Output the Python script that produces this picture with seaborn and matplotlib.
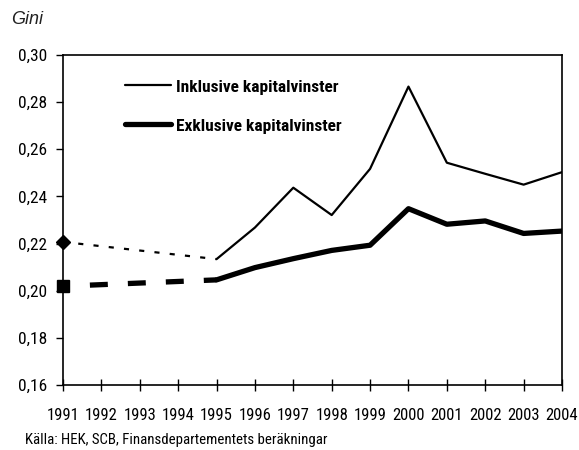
import matplotlib
matplotlib.use("Agg")
import matplotlib.pyplot as plt
import seaborn as sns
import pandas as pd
from matplotlib import font_manager as fm

years = [1991, 1992, 1993, 1994, 1995, 1996, 1997, 1998, 1999, 2000, 2001, 2002, 2003, 2004]
# 1991 endpoint (gap years 1992-1994 drawn as a broken line to 1995)
inkl_early_years = [1991, 1995]
inkl_early = [0.2207, 0.2134]
exkl_early_years = [1991, 1995]
exkl_early = [0.2019, 0.2046]
main_years = [1995, 1996, 1997, 1998, 1999, 2000, 2001, 2002, 2003, 2004]
inkl = [0.2134, 0.2268, 0.2437, 0.2321, 0.2517, 0.2866, 0.2543, 0.2496, 0.2450, 0.2503]
exkl = [0.2046, 0.2098, 0.2136, 0.2171, 0.2193, 0.2348, 0.2282, 0.2296, 0.2243, 0.2253]
yticks = [0.16, 0.18, 0.20, 0.22, 0.24, 0.26, 0.28, 0.30]
label_inkl = "Inklusive kapitalvinster"
label_exkl = "Exklusive kapitalvinster"
ylabel = "Gini"
source = "Källa: HEK, SCB, Finansdepartementets beräkningar"

sns.set_theme(style="white")

# pick a condensed grotesque that has regular and bold
weights = {}
for f in fm.fontManager.ttflist:
    weights.setdefault(f.name, set()).add((f.style, f.weight if isinstance(f.weight, int) else 400))
prefs = ["Liberation Sans Narrow", "Roboto Condensed", "PT Sans Narrow", "Archivo Narrow",
         "Fira Sans Condensed", "IBM Plex Sans Condensed", "Encode Sans Condensed",
         "Open Sans Condensed", "Barlow Condensed", "Asap Condensed", "Ubuntu Condensed"]
narrow = "DejaVu Sans"
for p in prefs:
    w = weights.get(p)
    if w and any(s == "normal" and 350 <= wt <= 450 for s, wt in w) and any(s == "normal" and wt >= 650 for s, wt in w):
        narrow = p
        break
plt.rcParams["font.family"] = [narrow, "DejaVu Sans"]
ital = "Liberation Sans" if "Liberation Sans" in weights else "DejaVu Sans"

fig = plt.figure(figsize=(5.79, 4.5), dpi=100)
ax = fig.add_axes([63/579, 1-385/450, (562-63)/579, (385-55)/450])

df_main = pd.DataFrame({"year": main_years, "inkl": inkl, "exkl": exkl})
df_ie = pd.DataFrame({"year": inkl_early_years, "v": inkl_early})
df_ee = pd.DataFrame({"year": exkl_early_years, "v": exkl_early})

sns.lineplot(data=df_main, x="year", y="inkl", ax=ax, color="black", lw=1.6, label=label_inkl)
sns.lineplot(data=df_main, x="year", y="exkl", ax=ax, color="black", lw=3.8, label=label_exkl)
sns.lineplot(data=df_ie, x="year", y="v", ax=ax, color="black", lw=1.6)
ax.lines[-1].set_linestyle((0.0, (2.3, 4.6)))
ax.lines[-1].set_dash_capstyle("butt")
sns.lineplot(data=df_ee, x="year", y="v", ax=ax, color="black", lw=3.8)
ax.lines[-1].set_linestyle((2.1, (3.4, 3.8)))
ax.lines[-1].set_dash_capstyle("butt")

ax.plot([inkl_early_years[0]], [inkl_early[0]], marker="D", ms=7.5, color="black", clip_on=False, zorder=5)
ax.plot([exkl_early_years[0]], [exkl_early[0]], marker="s", ms=8.8, color="black", clip_on=False, zorder=5)

ax.set_xlim(years[0], years[-1])
ax.set_ylim(yticks[0], yticks[-1])
ax.set_xticks(years)
ax.set_xticklabels([str(y) for y in years], fontsize=12)
ax.set_yticks(yticks)
ax.set_yticklabels([f"{t:.2f}".replace(".", ",") for t in yticks], fontsize=12.5)
ax.set_xlabel("")
ax.set_ylabel("")
for s in ax.spines.values():
    s.set_color("black")
    s.set_linewidth(1.2)
ax.tick_params(axis="x", direction="inout", length=8, width=1, colors="black", pad=12.5)
ax.tick_params(axis="y", direction="out", length=5, width=1, colors="black", pad=6.5)
ax.tick_params(axis="both", bottom=True, left=True, labelcolor="black")

leg = ax.legend(loc="upper left", bbox_to_anchor=(0.124, 0.926), frameon=False,
                borderpad=0, borderaxespad=0,
                prop={"weight": "bold", "size": 12.5}, handlelength=2.65, handletextpad=0.29,
                labelspacing=1.37)
for t in leg.get_texts():
    t.set_color("black")

fig.text(11/579, 1-20/450, ylabel, fontsize=13, style="italic", family=ital,
         va="center", ha="left", color="#222222")
fig.text(25/579, 1-440/450, source, fontsize=10.7, va="center", ha="left", color="black")

fig.savefig("out.png", dpi=100)
